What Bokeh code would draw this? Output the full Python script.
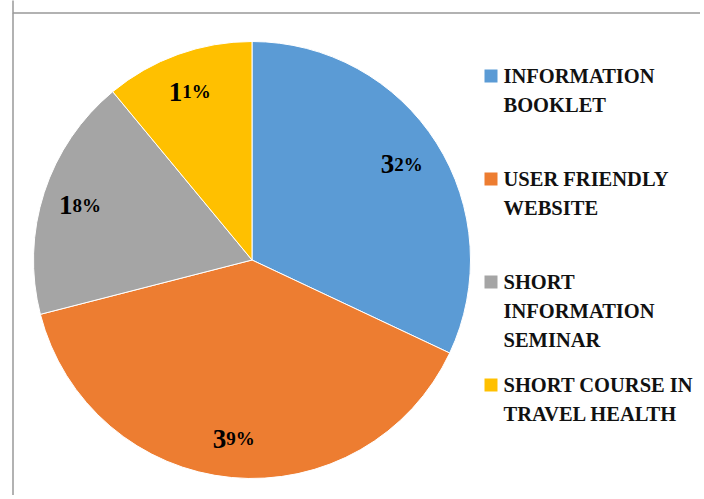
import math
from bokeh.plotting import figure
from bokeh.models import Range1d, ColumnDataSource
from bokeh.core.properties import value
from bokeh.embed import file_html
from bokeh.resources import INLINE

# ---- data ----
categories = ["INFORMATION BOOKLET", "USER FRIENDLY WEBSITE",
              "SHORT INFORMATION SEMINAR", "SHORT COURSE IN TRAVEL HEALTH"]
legend_lines = [["INFORMATION", "BOOKLET"],
                ["USER FRIENDLY", "WEBSITE"],
                ["SHORT", "INFORMATION", "SEMINAR"],
                ["SHORT COURSE IN", "TRAVEL HEALTH"]]
values = [32, 39, 18, 11]
colors = ["#5B9BD5", "#ED7D31", "#A5A5A5", "#FFC000"]

W, H = 704, 499
FONT = value("Liberation Serif")
TXT_FIX = 7  # rendered baseline sits lower than requested

def Y(y_img):
    return H - y_img

PW, PH = 700, 495
p = figure(width=PW, height=PH, output_backend="svg", toolbar_location=None,
           x_range=Range1d(0, PW), y_range=Range1d(H - PH, H), min_border=0)
p.axis.visible = False
p.grid.visible = False
p.outline_line_color = None
p.background_fill_color = "white"
p.border_fill_color = "white"

# frame border (cropped)
p.line([12.5, 12.5, 720], [Y(-20), Y(12.5), Y(12.5)], line_color="#999999", line_width=1.5)
p.line([12.5, 12.5], [Y(12.5), Y(520)], line_color="#999999", line_width=1.5)

# pie
cx, cy, r = 251.5, Y(259.5), 218.5
total = float(sum(values))
starts, ends, mids = [], [], []
cum = 0.0
for v in values:
    a0 = math.pi / 2 - 2 * math.pi * cum / total
    a1 = math.pi / 2 - 2 * math.pi * (cum + v) / total
    starts.append(a0)
    ends.append(a1)
    mids.append((a0 + a1) / 2)
    cum += v

src = ColumnDataSource(dict(start=starts, end=ends, color=colors))
p.wedge(x=cx, y=cy, radius=r, start_angle="start", end_angle="end",
        direction="clock", fill_color="color", line_color="white",
        line_width=1, source=src)

# slice labels: big first digit + smaller rest
for v, m in zip(values, mids):
    lx = cx + 0.82 * r * math.cos(m)
    ly = cy + 0.82 * r * math.sin(m)
    s = str(v)
    split = lx - 9
    base = ly - 0.5
    p.text(x=[split], y=[base], text=[s[0]], text_font=FONT, text_font_size="27px",
           text_font_style="bold", text_align="right", text_baseline="alphabetic",
           text_color="black")
    p.text(x=[split], y=[base], text=[s[1:] + "%"], text_font=FONT, text_font_size="19px",
           text_font_style="bold", text_align="left", text_baseline="alphabetic",
           text_color="black")

# legend
leg_x_sq = 490.5
leg_x_txt = 503
first_base = 82
entry_gap = 103
line_gap = 29.3
for i, (lines, c) in enumerate(zip(legend_lines, colors)):
    b0 = first_base + entry_gap * i
    p.rect(x=[leg_x_sq], y=[Y(b0 - 6.5)], width=13, height=13,
           fill_color=c, line_color=None)
    for j, t in enumerate(lines):
        p.text(x=[leg_x_txt], y=[Y(b0 + line_gap * j - TXT_FIX)], text=[t], text_font=FONT,
               text_font_size="20.5px", text_font_style="bold", text_align="left",
               text_baseline="alphabetic", text_color="#111111")

open("out.html", "w").write(file_html(p, INLINE))
